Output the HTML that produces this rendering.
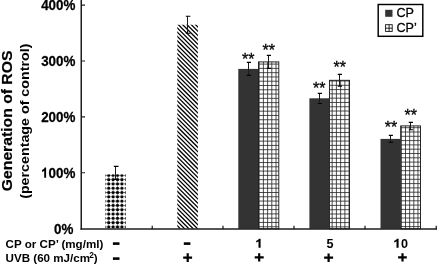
<!DOCTYPE html>
<html><head><meta charset="utf-8"><style>
html,body{margin:0;padding:0;background:#fff;width:437px;height:264px;overflow:hidden}
svg{display:block;will-change:transform}
text{font-family:"Liberation Sans",sans-serif;fill:#000}
.b{font-weight:bold}
</style></head><body>
<svg width="437" height="264" viewBox="0 0 437 264">
<defs>
<pattern id="dots" patternUnits="userSpaceOnUse" x="106.5" y="198.95" width="4.4" height="4.3">
<rect x="0" y="1.75" width="4.4" height="0.8" fill="#888"/>
<rect x="1.8" y="0" width="0.8" height="4.3" fill="#aaa"/>
<circle cx="2.2" cy="2.15" r="1.6" fill="#000"/>
</pattern>
</defs>

<!-- y axis title -->
<text class="b" font-size="14.3" stroke="#000" stroke-width="0.2" transform="translate(11.8,120.9) rotate(-90) scale(1.1,1)" text-anchor="middle">Generation of ROS</text>
<text class="b" font-size="12.2" transform="translate(28.8,121.2) rotate(-90) scale(1.17,1)" text-anchor="middle">(percentage of control)</text>

<!-- y tick labels -->
<g class="b" font-size="13.4" text-anchor="end" stroke="#000" stroke-width="0.25">
<text transform="translate(75.4,10.1) scale(1,1.1)">400%</text>
<text transform="translate(75.4,66.0) scale(1,1.1)">300%</text>
<text transform="translate(75.4,121.9) scale(1,1.1)">200%</text>
<text transform="translate(75.4,177.8) scale(1,1.1)">00%</text><path transform="translate(41.14,177.8) scale(13.4,14.74)" stroke="none" d="M0.37,-0.70 V0 H0.23 V-0.47 C0.18,-0.43 0.12,-0.41 0.07,-0.40 V-0.53 C0.16,-0.56 0.24,-0.63 0.27,-0.70 Z"/>
<text transform="translate(73.4,233.7) scale(1,1.1)">0%</text>
</g>

<!-- bars -->
<rect x="105.3" y="174.4" width="20.4" height="54.4" fill="url(#dots)"/>
<clipPath id="hc"><rect x="177.3" y="24.7" width="20.6" height="204.1"/></clipPath>
<g clip-path="url(#hc)"><path d="M175.3,-4.20L199.9,20.40M175.3,0.10L199.9,24.70M175.3,4.40L199.9,29.00M175.3,8.70L199.9,33.30M175.3,13.00L199.9,37.60M175.3,17.30L199.9,41.90M175.3,21.60L199.9,46.20M175.3,25.90L199.9,50.50M175.3,30.20L199.9,54.80M175.3,34.50L199.9,59.10M175.3,38.80L199.9,63.40M175.3,43.10L199.9,67.70M175.3,47.40L199.9,72.00M175.3,51.70L199.9,76.30M175.3,56.00L199.9,80.60M175.3,60.30L199.9,84.90M175.3,64.60L199.9,89.20M175.3,68.90L199.9,93.50M175.3,73.20L199.9,97.80M175.3,77.50L199.9,102.10M175.3,81.80L199.9,106.40M175.3,86.10L199.9,110.70M175.3,90.40L199.9,115.00M175.3,94.70L199.9,119.30M175.3,99.00L199.9,123.60M175.3,103.30L199.9,127.90M175.3,107.60L199.9,132.20M175.3,111.90L199.9,136.50M175.3,116.20L199.9,140.80M175.3,120.50L199.9,145.10M175.3,124.80L199.9,149.40M175.3,129.10L199.9,153.70M175.3,133.40L199.9,158.00M175.3,137.70L199.9,162.30M175.3,142.00L199.9,166.60M175.3,146.30L199.9,170.90M175.3,150.60L199.9,175.20M175.3,154.90L199.9,179.50M175.3,159.20L199.9,183.80M175.3,163.50L199.9,188.10M175.3,167.80L199.9,192.40M175.3,172.10L199.9,196.70M175.3,176.40L199.9,201.00M175.3,180.70L199.9,205.30M175.3,185.00L199.9,209.60M175.3,189.30L199.9,213.90M175.3,193.60L199.9,218.20M175.3,197.90L199.9,222.50M175.3,202.20L199.9,226.80M175.3,206.50L199.9,231.10M175.3,210.80L199.9,235.40M175.3,215.10L199.9,239.70M175.3,219.40L199.9,244.00M175.3,223.70L199.9,248.30M175.3,228.00L199.9,252.60M175.3,232.30L199.9,256.90" stroke="#000" stroke-width="1.3" fill="none"/></g>
<rect x="238.3" y="68.9" width="20.2" height="159.9" fill="#333"/>
<!-- grids -->
<rect x="258.5" y="61.9" width="20.3" height="166.9" fill="#fff" stroke="#111" stroke-width="0.9"/><path d="M259.20,61.9V228.8M263.40,61.9V228.8M267.60,61.9V228.8M271.80,61.9V228.8M276.00,61.9V228.8M258.5,64.10H278.8M258.5,68.38H278.8M258.5,72.66H278.8M258.5,76.94H278.8M258.5,81.22H278.8M258.5,85.50H278.8M258.5,89.78H278.8M258.5,94.06H278.8M258.5,98.34H278.8M258.5,102.62H278.8M258.5,106.90H278.8M258.5,111.18H278.8M258.5,115.46H278.8M258.5,119.74H278.8M258.5,124.02H278.8M258.5,128.30H278.8M258.5,132.58H278.8M258.5,136.86H278.8M258.5,141.14H278.8M258.5,145.42H278.8M258.5,149.70H278.8M258.5,153.98H278.8M258.5,158.26H278.8M258.5,162.54H278.8M258.5,166.82H278.8M258.5,171.10H278.8M258.5,175.38H278.8M258.5,179.66H278.8M258.5,183.94H278.8M258.5,188.22H278.8M258.5,192.50H278.8M258.5,196.78H278.8M258.5,201.06H278.8M258.5,205.34H278.8M258.5,209.62H278.8M258.5,213.90H278.8M258.5,218.18H278.8M258.5,222.46H278.8M258.5,226.74H278.8" stroke="#222" stroke-width="0.8" fill="none"/>
<rect x="329.5" y="80.3" width="20.0" height="148.5" fill="#fff" stroke="#111" stroke-width="0.9"/><path d="M332.17,80.3V228.8M336.40,80.3V228.8M340.63,80.3V228.8M344.86,80.3V228.8M349.09,80.3V228.8M329.5,81.01H349.5M329.5,85.30H349.5M329.5,89.59H349.5M329.5,93.88H349.5M329.5,98.17H349.5M329.5,102.46H349.5M329.5,106.75H349.5M329.5,111.04H349.5M329.5,115.33H349.5M329.5,119.62H349.5M329.5,123.91H349.5M329.5,128.20H349.5M329.5,132.49H349.5M329.5,136.78H349.5M329.5,141.07H349.5M329.5,145.36H349.5M329.5,149.65H349.5M329.5,153.94H349.5M329.5,158.23H349.5M329.5,162.52H349.5M329.5,166.81H349.5M329.5,171.10H349.5M329.5,175.39H349.5M329.5,179.68H349.5M329.5,183.97H349.5M329.5,188.26H349.5M329.5,192.55H349.5M329.5,196.84H349.5M329.5,201.13H349.5M329.5,205.42H349.5M329.5,209.71H349.5M329.5,214.00H349.5M329.5,218.29H349.5M329.5,222.58H349.5M329.5,226.87H349.5" stroke="#222" stroke-width="0.8" fill="none"/>
<rect x="400.7" y="125.9" width="19.8" height="102.9" fill="#fff" stroke="#111" stroke-width="0.9"/><path d="M401.35,125.9V228.8M405.50,125.9V228.8M409.65,125.9V228.8M413.80,125.9V228.8M417.95,125.9V228.8M400.7,127.70H420.5M400.7,132.00H420.5M400.7,136.30H420.5M400.7,140.60H420.5M400.7,144.90H420.5M400.7,149.20H420.5M400.7,153.50H420.5M400.7,157.80H420.5M400.7,162.10H420.5M400.7,166.40H420.5M400.7,170.70H420.5M400.7,175.00H420.5M400.7,179.30H420.5M400.7,183.60H420.5M400.7,187.90H420.5M400.7,192.20H420.5M400.7,196.50H420.5M400.7,200.80H420.5M400.7,205.10H420.5M400.7,209.40H420.5M400.7,213.70H420.5M400.7,218.00H420.5M400.7,222.30H420.5M400.7,226.60H420.5" stroke="#222" stroke-width="0.8" fill="none"/>
<!-- /grids -->
<rect x="309.4" y="98.3" width="20.1" height="130.5" fill="#333"/>
<rect x="380.5" y="138.9" width="20.2" height="89.9" fill="#333"/>

<!-- error bars -->
<g fill="none">
<path d="M115.5,166.4 V179.4" stroke="#1a1a1a" stroke-width="1"/><path d="M113.8,166.4 H118.5 M113.8,179.4 H118.5" stroke="#000" stroke-width="1.1"/>
<path d="M187.5,16.3 V33.3" stroke="#1a1a1a" stroke-width="1"/><path d="M185.8,16.3 H190.4 M185.8,33.3 H190.4" stroke="#000" stroke-width="1.1"/>
<path d="M248.5,62.4 V75.4" stroke="#1a1a1a" stroke-width="1"/><path d="M246.8,62.4 H251.0 M246.8,75.4 H251.0" stroke="#000" stroke-width="1.1"/>
<path d="M268.5,55.4 V68.4" stroke="#1a1a1a" stroke-width="1"/><path d="M266.8,55.4 H271.0 M266.8,68.4 H271.0" stroke="#000" stroke-width="1.1"/>
<path d="M319.5,93.4 V103.5" stroke="#1a1a1a" stroke-width="1"/><path d="M317.8,93.4 H322.0 M317.8,103.5 H322.0" stroke="#000" stroke-width="1.1"/>
<path d="M339.5,74.4 V86.1" stroke="#1a1a1a" stroke-width="1"/><path d="M337.8,74.4 H342.0 M337.8,86.1 H342.0" stroke="#000" stroke-width="1.1"/>
<path d="M390.5,135.4 V142.4" stroke="#1a1a1a" stroke-width="1"/><path d="M388.8,135.4 H392.9 M388.8,142.4 H392.9" stroke="#000" stroke-width="1.1"/>
<path d="M410.5,122.4 V129.8" stroke="#1a1a1a" stroke-width="1"/><path d="M408.8,122.4 H413.0 M408.8,129.8 H413.0" stroke="#000" stroke-width="1.1"/>
</g>

<!-- asterisks -->
<g font-size="16" text-anchor="middle" stroke="#000" stroke-width="0.3">
<text x="248.3" y="64.5">**</text>
<text x="268.8" y="56">**</text>
<text x="319.3" y="93.9">**</text>
<text x="339.7" y="73.4">**</text>
<text x="390.9" y="133.4">**</text>
<text x="410.7" y="120.9">**</text>
</g>

<!-- axes -->
<g stroke="#000" fill="none">
<path d="M81.25,0 V229.7" stroke="#1e1e1e" stroke-width="1.5"/>
<path d="M80.5,229 H437" stroke="#1e1e1e" stroke-width="1.5"/>
<path d="M82,5.1 H85 M82,61 H85 M82,116.9 H85 M82,172.8 H85" stroke="#222" stroke-width="1.1"/>
<path d="M152.2,225.8 V229 M223,225.8 V229 M294,225.8 V229 M365,225.8 V229 M436.2,225.8 V229" stroke-width="1.1"/>
</g>

<!-- legend -->
<rect x="378.2" y="4.5" width="44.6" height="31.8" fill="#fff" stroke="#000" stroke-width="1.45"/>
<rect x="385.2" y="9.8" width="7.3" height="7" fill="#333"/>
<g stroke="#111" stroke-width="0.9" fill="#fff">
<rect x="385.6" y="24.7" width="6.6" height="6.7"/>
<path d="M389.1,24.7 V31.4 M385.6,28.2 H392.2"/>
</g>
<g font-size="11.9" stroke="#000" stroke-width="0.25">
<text transform="translate(396.5,16.9) scale(1.06,1)">CP</text>
<text transform="translate(396.5,31.6) scale(1.06,1)">CP’</text>
</g>

<!-- x labels -->
<g class="b" font-size="11.6">
<text x="5.6" y="248.3">CP or CP’ (mg/ml)</text>
<text x="5.6" y="261.9">UVB (60 mJ/cm<tspan font-size="8.4" dy="-4.4" dx="-0.8">2</tspan><tspan dy="4.4" dx="-0.1">)</tspan></text>
</g>
<g fill="#000">
<rect x="112.9" y="242.3" width="6.6" height="2.6"/>
<rect x="112.9" y="257.3" width="6.6" height="2.6"/>
<rect x="183.8" y="242.3" width="6.6" height="2.6"/>
</g>
<g class="b" font-size="12.6">
<text x="329.9" y="247.7" text-anchor="middle">5</text>
<text x="400.9" y="247.7">0</text>
</g>
<path transform="translate(260.6,247.7)" d="M0,-9 V0 H-2.1 V-6.4 C-2.7,-5.85 -3.5,-5.4 -4.4,-5.1 V-6.9 C-3.2,-7.35 -2.2,-8.1 -1.7,-9 Z" fill="#000"/>
<path transform="translate(398.6,247.7)" d="M0,-9 V0 H-2.1 V-6.4 C-2.7,-5.85 -3.5,-5.4 -4.4,-5.1 V-6.9 C-3.2,-7.35 -2.2,-8.1 -1.7,-9 Z" fill="#000"/>
<g fill="#000">
<path d="M183.2,256.6 H192.1 V258.8 H183.2 Z M186.6,253.2 H188.8 V262 H186.6 Z"/>
<path d="M254.7,256.3 H263.7 V258.5 H254.7 Z M258.1,253.2 H260.3 V261.6 H258.1 Z"/>
<path d="M324.1,256.6 H333.1 V258.8 H324.1 Z M327.5,253.5 H329.7 V262 H327.5 Z"/>
<path d="M398.1,256.3 H406.8 V258.5 H398.1 Z M401.4,253.2 H403.6 V261.6 H401.4 Z"/>
</g>
</svg>
</body></html>
